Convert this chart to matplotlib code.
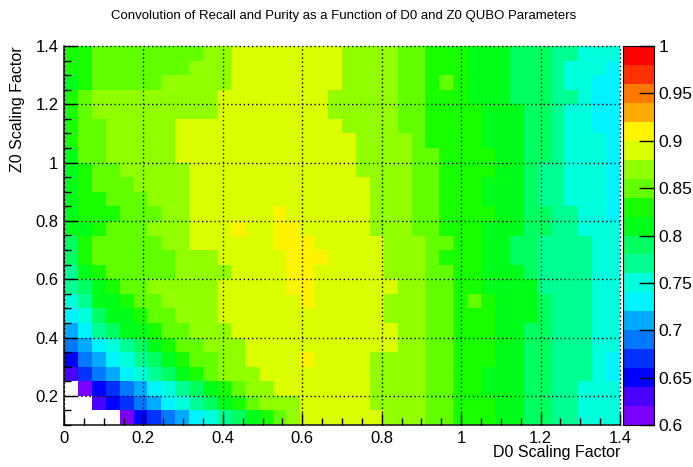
import numpy as np
import matplotlib
matplotlib.use('Agg')
import matplotlib.pyplot as plt
from matplotlib.colors import ListedColormap, BoundaryNorm
from matplotlib.ticker import MultipleLocator, FixedLocator, FuncFormatter

plt.rcParams['font.family'] = ['Liberation Sans', 'DejaVu Sans']

# ---- data -------------------------------------------------------------
title = "Convolution of Recall and Purity as a Function of D0 and Z0 QUBO Parameters"
x_title = "D0 Scaling Factor"
y_title = "Z0 Scaling Factor"

d0_edges = np.linspace(0.0, 1.4, 41)   # 40 bins of 0.035
z0_edges = np.linspace(0.1, 1.4, 27)   # 26 bins of 0.05

# value read for each colour band (W = below 0.6, not drawn)
band_value = {'W': 0.58, 'V': 0.61, 'I': 0.63, 'B': 0.65, 'b': 0.67, 'A': 0.69,
              'S': 0.71, 'C': 0.73, 'T': 0.75, 'M': 0.77, 'N': 0.79, 'G': 0.81,
              'g': 0.83, 'L': 0.85, 'l': 0.87, 'Y': 0.89, 'O': 0.91}

# rows from Z0 = 1.4 (top) down to Z0 = 0.1 (bottom), 40 D0 bins each
cells_top_to_bottom = [
    "ggLLLLLLLLllYYYYYYYYllllLLgggGGGNNNMMTTT",
    "ggLLLLLLLlllYYYYYYYYllllLLgggGGGNNNMTTTC",
    "GgLLLLLlllllYYYYYYYYllllLLgLgGGGNNNMTTCC",
    "gLlllllllllYYYYYYYYlllllLLgggGGGNNNMMTCC",
    "gLlllllllllYYYYYYYYlllllLLggggGGGNNMTTCC",
    "gLLlllllYYYYYYYYYYYYllllLLggggGGGNNMTTCC",
    "gLLlllllYYYYYYYYYYYYYllllLggggGGGNNMTTTC",
    "GLLlllllYYYYYYYYYYYYYllllLLggggGGNNMTTTC",
    "GgLLlllllYYYYYYYYYYYYllllLLggggGGNMMTTTC",
    "GgLLLllllYYYYYYYYYYYYYlllLLgggGGGNMMTTTC",
    "GggLLLlllYYYYYYYYYYYYYlllLLgggGGGNMMTTTC",
    "GgggLLLllYYYYYYOYYYYYYlllLLggggGGNNMMTTC",
    "GGgLLLlllYYYOYYOOYYYYYlllLLgggGGGNNMMTTT",
    "NgLLLLLllYYYYYYOOOYYYYYlllLLggGGNNMMMMTT",
    "NgLLLLLLlllYYYYYOOOYYYYlllLgggGGNNMMMMTT",
    "MGgLLLLLllllYYYYOOYYYYYlllLLggGGGNMMMMTT",
    "MNGgLLlllllYYYYYOOYYYYYYllLLggGGGGMMMMTT",
    "TMGGgLLllllYYYYYYOYYYYYlllLLgLgGGGNMMMTT",
    "CTNGGgLLlllYYYYYYYYYYYYlllLLgggGGGNMMMTT",
    "SCMNGGgLLlllYYYYYYYYYYYYllLLgggGGNNMMMTT",
    "ASCTMNGgLLlllYYYYYYYYYYYllLLgggGGNNMMMTT",
    "BASCTMNGgLLllYYYYOYYYYllllLLgggGGNNMMMTC",
    "IbASCTMNGgLlllYYYYYYYYllllLLggGGGNNMMMTC",
    "WVBbASCTMNGgLllYYYYYYYllllLLggGGGNNMMTTT",
    "WWIBbASCTMNGgLlllYYYYYllllLLgggGGNNMMTTT",
    "WWWWVBbASCTMNGgLlYYYYYYlllLLgggGGNNMMTTT",
]

z_levels = [0.60, 0.62, 0.64, 0.66, 0.68, 0.70, 0.72, 0.74, 0.76, 0.78, 0.80,
            0.82, 0.84, 0.86, 0.88, 0.90, 0.92, 0.94, 0.96, 0.98, 1.00]
palette = ['#7a00ff', '#4900ff', '#0000ff', '#0031ff', '#0079ff', '#00aaff',
           '#00f3ff', '#00ffdb', '#00ff92', '#00ff61', '#00ff18', '#18ff00',
           '#61ff00', '#92ff00', '#dbff00', '#fff300', '#ffaa00', '#ff7900',
           '#ff3100', '#ff0000']
x_ticks = [0.0, 0.2, 0.4, 0.6, 0.8, 1.0, 1.2, 1.4]
y_ticks = [0.2, 0.4, 0.6, 0.8, 1.0, 1.2, 1.4]
z_ticks = [0.6, 0.65, 0.7, 0.75, 0.8, 0.85, 0.9, 0.95, 1.0]

values = np.array([[band_value[c] for c in row] for row in cells_top_to_bottom[::-1]])

# ---- figure -----------------------------------------------------------
W, H = 693, 467
fig = plt.figure(figsize=(W / 100, H / 100), dpi=100)
ax = fig.add_axes([64 / W, 42 / H, 556 / W, 379 / H])

cmap = ListedColormap(palette)
cmap.set_under('white')
norm = BoundaryNorm(z_levels, len(palette))
mesh = ax.pcolormesh(d0_edges, z0_edges, values, cmap=cmap, norm=norm,
                     shading='flat', edgecolors='none', antialiased=False)

ax.set_xlim(0.0, 1.4)
ax.set_ylim(0.1, 1.4)
ax.xaxis.set_major_locator(FixedLocator(x_ticks))
ax.yaxis.set_major_locator(FixedLocator(y_ticks))
ax.xaxis.set_minor_locator(MultipleLocator(0.05))
ax.yaxis.set_minor_locator(MultipleLocator(0.05))
fmt = FuncFormatter(lambda v, p: f"{round(v, 3):g}")
ax.xaxis.set_major_formatter(fmt)
ax.yaxis.set_major_formatter(fmt)

ax.set_axisbelow(False)
ax.grid(True, which='major', color='black', linestyle=(0, (1, 2)), linewidth=1.0)
for ln in ax.get_xgridlines() + ax.get_ygridlines():
    ln.set_clip_on(False)

for s in ['top', 'right']:
    ax.spines[s].set_visible(False)
for s in ['left', 'bottom']:
    ax.spines[s].set_color('#222222')
    ax.spines[s].set_linewidth(1.2)

ax.tick_params(which='both', direction='in', top=False, right=False,
               color='black', width=1.0, labelsize=12)
ax.tick_params(which='major', length=9, pad=4)
ax.tick_params(which='minor', length=5)

# palette axis
cax = fig.add_axes([623 / W, 42 / H, 31 / W, 379 / H])
cb = fig.colorbar(mesh, cax=cax, ticks=z_ticks)
cb.ax.yaxis.set_major_formatter(fmt)
cb.ax.tick_params(direction='in', length=11, width=1.0, color='black',
                  labelsize=12.5, pad=3)
cb.ax.minorticks_off()
cb.outline.set_linewidth(0.8)

fig.text(344 / W, 1 - 16 / H, title, ha='center', va='center', fontsize=9.5)
fig.text(620 / W, 1 - 452 / H, x_title, ha='right', va='center', fontsize=11.5)
fig.text(18 / W, 1 - 46 / H, y_title, ha='center', va='top', rotation=90,
         fontsize=11.5)

fig.savefig('out.png', dpi=100)
